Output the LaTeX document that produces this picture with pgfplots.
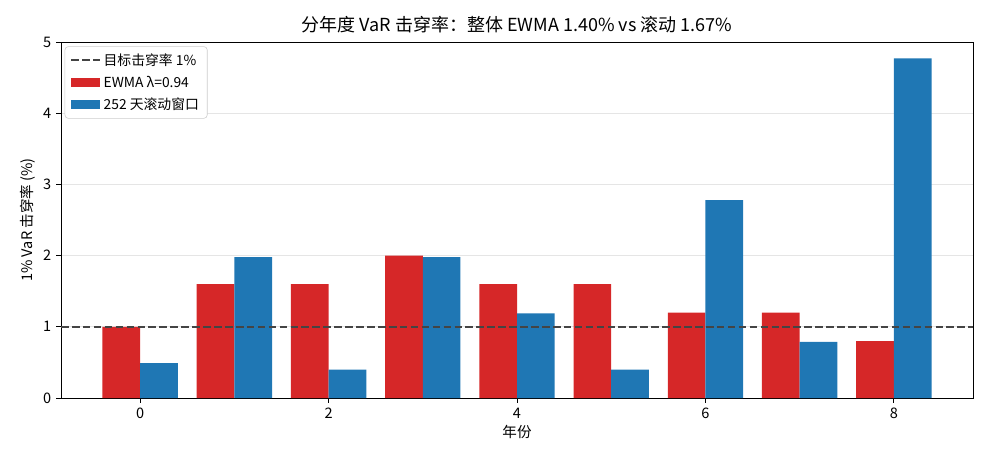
\documentclass[border=0pt]{standalone}
\usepackage{fontspec}
\setmainfont{Noto Sans CJK SC}
\usepackage{pgfplots}
\pgfplotsset{compat=1.18}
\definecolor{mplred}{HTML}{D62728}
\definecolor{mplblue}{HTML}{1F77B4}
\definecolor{dline}{HTML}{444444}
\begin{document}
\begin{tikzpicture}
\useasboundingbox (-43.92bp,-46.08bp) rectangle (668.88bp,286.56bp);
\begin{axis}[
  scale only axis,
  width=656.64bp, height=256.32bp,
  xmin=-0.84, xmax=8.84, ymin=0, ymax=5,
  xtick={0,2,4,6,8}, ytick={0,1,2,3,4,5},
  tick align=outside, major tick length=3.5bp,
  tick style={black, line width=0.6pt},
  xtick pos=bottom, ytick pos=left,
  ymajorgrids, grid style={black!10, line width=0.6pt},
  axis line style={line width=0.6pt},
  /pgf/number format/assume math mode=true,
  tick label style={font=\fontsize{10.5}{12}\selectfont},
  label style={font=\fontsize{10.5}{12}\selectfont},
  title style={font=\fontsize{13}{15}\selectfont, yshift=-3bp},
  title={分年度 VaR 击穿率：整体 EWMA 1.40\% vs 滚动 1.67\%},
  xlabel={年份}, ylabel={1\% VaR 击穿率 (\%)},
  ylabel style={yshift=-1bp},
  xlabel style={yshift=2bp},
  legend cell align=left,
  legend style={font=\fontsize{10}{12}\selectfont, draw=black!20, rounded corners=2.5pt,
    at={(0.004,0.988)}, anchor=north west, inner xsep=4pt, inner ysep=3pt, row sep=2.2pt},
]
\addlegendimage{legend image code/.code={\draw[sharp corners, dline, line width=1.5pt, dash pattern=on 5.5pt off 2.4pt] (0cm,0cm) -- (0.72cm,0cm);}}
\addlegendentry{目标击穿率 1\%}
\addplot[ybar, bar width=0.4, bar shift=-0.2, fill=mplred, draw=none,
  legend image code/.code={\fill[sharp corners, mplred] (0cm,-0.12cm) rectangle (0.72cm,0.12cm);}]
  coordinates {(0,1.0) (1,1.6) (2,1.6) (3,2.0) (4,1.6) (5,1.6) (6,1.2) (7,1.2) (8,0.8)};
\addlegendentry{EWMA λ=0.94}
\addplot[ybar, bar width=0.4, bar shift=0.2, fill=mplblue, draw=none,
  legend image code/.code={\fill[sharp corners, mplblue] (0cm,-0.12cm) rectangle (0.72cm,0.12cm);}]
  coordinates {(0,0.49) (1,1.98) (2,0.4) (3,1.98) (4,1.19) (5,0.4) (6,2.78) (7,0.79) (8,4.77)};
\addlegendentry{252 天滚动窗口}
\addplot[dline, line width=1.5pt, dash pattern=on 5.5pt off 2.4pt, forget plot]
  coordinates {(-0.84,1) (8.84,1)};
\end{axis}
\end{tikzpicture}
\end{document}
